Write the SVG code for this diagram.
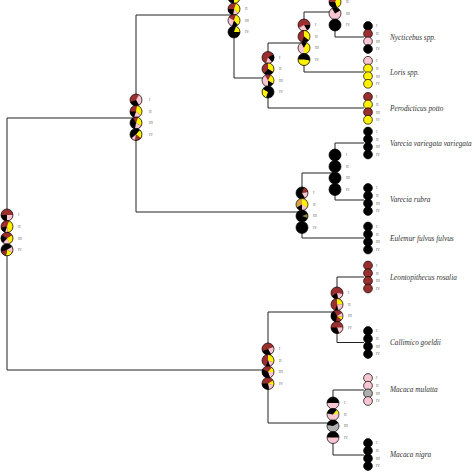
<svg xmlns="http://www.w3.org/2000/svg" width="474" height="474" viewBox="0 0 474 474">
<style>
.ln{fill:none;stroke:#222;stroke-width:1}
.k{fill:#000}.b{fill:#9b2f2f}.p{fill:#f7c6d1}.y{fill:#fff200}.g{fill:#b0b0b0}.o{fill:#d8a040}.q{fill:#8f8a3a}
.ol{fill:none;stroke:#000;stroke-width:0.7}
.t{stroke:#000;stroke-width:0.7}
.n{font-family:"Liberation Serif",serif;font-size:3.8px;fill:#666}
.sp{font-family:"Liberation Serif",serif;font-style:italic;font-size:7.3px;fill:#333}
</style>
<rect width="474" height="474" fill="#fff"/>
<g id="connectors" class="ln">
<path d="M7,118V370"/>
<path d="M7,118H136M136,15V212M136,15H234M136,212H302"/>
<path d="M234,0V78M234,78H268M268,43V108M268,43H304M268,108H364"/>
<path d="M304,12V72M304,12H335M304,72H364M335,0V37M335,37H364"/>
<path d="M302,173V238M302,173H335M302,238H364M335,143V200M335,143H364M335,200H364"/>
<path d="M7,370H268M268,312V423M268,312H337M268,423H333"/>
<path d="M337,277V342.5M337,277H364M337,342.5H364"/>
<path d="M333,390V455M333,390H364M333,455H364"/>
</g>
<g id="node-root">
<g transform="translate(7,215)"><circle r="6" class="b"/><path class="p" d="M0,0L6,0A6,6 0 0 1 0,6Z"/><path class="k" d="M0,0L0,6A6,6 0 0 1 -6,0Z"/><circle r="6" class="ol"/></g>
<g transform="translate(7,226.6)"><circle r="6" class="b"/><path class="y" d="M0,0L2.05,-5.64A6,6 0 0 1 1.04,5.91Z"/><path class="p" d="M0,0L1.04,5.91A6,6 0 0 1 -2.05,5.64Z"/><path class="k" d="M0,0L-2.05,5.64A6,6 0 0 1 -5.91,1.04Z"/><circle r="6" class="ol"/></g>
<g transform="translate(7,238.2)"><circle r="6" class="b"/><path class="y" d="M0,0L5.2,-3A6,6 0 0 1 3,5.2Z"/><path class="p" d="M0,0L3,5.2A6,6 0 0 1 -3.86,4.6Z"/><path class="k" d="M0,0L-3.86,4.6A6,6 0 0 1 -5.2,-3Z"/><circle r="6" class="ol"/></g>
<g transform="translate(7,249.8)"><circle r="6" class="k"/><path class="p" d="M0,0L5.2,-3A6,6 0 0 1 5.2,3Z"/><path class="y" d="M0,0L5.2,3A6,6 0 0 1 -1.04,5.91Z"/><path class="b" d="M0,0L-1.04,5.91A6,6 0 0 1 -5.64,2.05Z"/><circle r="6" class="ol"/></g>
<text class="n" x="18" y="216.3">I</text><text class="n" x="18" y="227.9">II</text><text class="n" x="18" y="239.5">III</text><text class="n" x="18" y="251.1">IV</text>
</g>
<g id="node-strepsirrhini">
<g transform="translate(136,100)"><circle r="6" class="b"/><path class="p" d="M0,0L3,-5.2A6,6 0 0 1 3,5.2Z"/><path class="k" d="M0,0L3,5.2A6,6 0 0 1 -5.64,2.05Z"/><circle r="6" class="ol"/></g>
<g transform="translate(136,111.5)"><circle r="6" class="b"/><path class="y" d="M0,0L1.04,-5.91A6,6 0 0 1 4.6,3.86Z"/><path class="p" d="M0,0L4.6,3.86A6,6 0 0 1 -2.05,5.64Z"/><path class="k" d="M0,0L-2.05,5.64A6,6 0 0 1 -6,0Z"/><circle r="6" class="ol"/></g>
<g transform="translate(136,123)"><circle r="6" class="k"/><path class="b" d="M0,0L-3,-5.2A6,6 0 0 1 2.05,-5.64Z"/><path class="y" d="M0,0L2.05,-5.64A6,6 0 0 1 5.2,3Z"/><path class="p" d="M0,0L5.2,3A6,6 0 0 1 -1.04,5.91Z"/><circle r="6" class="ol"/></g>
<g transform="translate(136,134.5)"><circle r="6" class="k"/><path class="y" d="M0,0L3.86,-4.6A6,6 0 0 1 4.6,3.86Z"/><path class="b" d="M0,0L4.6,3.86A6,6 0 0 1 -1.04,5.91Z"/><path class="p" d="M0,0L-1.04,5.91A6,6 0 0 1 -4.6,3.86Z"/><circle r="6" class="ol"/></g>
<text class="n" x="149" y="101.3">I</text><text class="n" x="149" y="112.8">II</text><text class="n" x="149" y="124.3">III</text><text class="n" x="149" y="135.8">IV</text>
</g>
<g id="node-lorisidae">
<g transform="translate(234,-2.5)"><circle r="6" class="k"/><path class="b" d="M0,0L-5.2,-3A6,6 0 0 1 5.2,-3Z"/><path class="y" d="M0,0L5.2,-3A6,6 0 0 1 0,6Z"/><circle r="6" class="ol"/></g>
<g transform="translate(234,9)"><circle r="6" class="b"/><path class="y" d="M0,0L2.05,-5.64A6,6 0 0 1 3.86,4.6Z"/><path class="p" d="M0,0L3.86,4.6A6,6 0 0 1 -1.04,5.91Z"/><path class="k" d="M0,0L-1.04,5.91A6,6 0 0 1 -6,0Z"/><circle r="6" class="ol"/></g>
<g transform="translate(234,20.5)"><circle r="6" class="p"/><path class="b" d="M0,0L-5.2,-3A6,6 0 0 1 2.05,-5.64Z"/><path class="y" d="M0,0L2.05,-5.64A6,6 0 0 1 3.86,4.6Z"/><path class="k" d="M0,0L3.86,4.6A6,6 0 0 1 -2.05,5.64Z"/><circle r="6" class="ol"/></g>
<g transform="translate(234,32)"><circle r="6" class="k"/><path class="y" d="M0,0L2.05,-5.64A6,6 0 0 1 6,0Z"/><circle r="6" class="ol"/></g>
<text class="n" x="245" y="10.3">II</text><text class="n" x="245" y="21.8">III</text><text class="n" x="245" y="33.3">IV</text>
</g>
<g id="node-lorisinae">
<g transform="translate(268,57.5)"><circle r="6" class="b"/><path class="k" d="M0,0L5.2,-3A6,6 0 0 1 3.86,4.6Z"/><path class="p" d="M0,0L3.86,4.6A6,6 0 0 1 -2.05,5.64Z"/><circle r="6" class="ol"/></g>
<g transform="translate(268,69)"><circle r="6" class="b"/><path class="y" d="M0,0L0,-6A6,6 0 0 1 5.2,3Z"/><path class="k" d="M0,0L5.2,3A6,6 0 0 1 -3.86,4.6Z"/><circle r="6" class="ol"/></g>
<g transform="translate(268,80.5)"><circle r="6" class="p"/><path class="b" d="M0,0L-3,-5.2A6,6 0 0 1 3,-5.2Z"/><path class="y" d="M0,0L3,-5.2A6,6 0 0 1 5.2,3Z"/><path class="k" d="M0,0L5.2,3A6,6 0 0 1 0,6Z"/><circle r="6" class="ol"/></g>
<g transform="translate(268,92)"><circle r="6" class="k"/><path class="y" d="M0,0L-2.05,5.64A6,6 0 0 1 -5.2,-3Z"/><circle r="6" class="ol"/></g>
<text class="n" x="279" y="58.8">I</text><text class="n" x="279" y="70.3">II</text><text class="n" x="279" y="81.8">III</text><text class="n" x="279" y="93.3">IV</text>
</g>
<g id="node-asian-lorises">
<g transform="translate(304,25)"><circle r="6" class="b"/><path class="k" d="M0,0L6,0A6,6 0 0 1 3,5.2Z"/><path class="p" d="M0,0L3,5.2A6,6 0 0 1 -5.2,3Z"/><circle r="6" class="ol"/></g>
<g transform="translate(304,36.5)"><circle r="6" class="b"/><path class="y" d="M0,0L0,-6A6,6 0 0 1 4.6,3.86Z"/><path class="k" d="M0,0L4.6,3.86A6,6 0 0 1 -2.05,5.64Z"/><circle r="6" class="ol"/></g>
<g transform="translate(304,48)"><circle r="6" class="p"/><path class="k" d="M0,0L-3,-5.2A6,6 0 0 1 3,-5.2Z"/><path class="y" d="M0,0L3,-5.2A6,6 0 0 1 0,6Z"/><circle r="6" class="ol"/></g>
<g transform="translate(304,59.5)"><circle r="6" class="k"/><path class="y" d="M0,0L5.91,1.04A6,6 0 0 1 -6,0Z"/><circle r="6" class="ol"/></g>
<text class="n" x="315" y="26.3">I</text><text class="n" x="315" y="37.8">II</text><text class="n" x="315" y="49.3">III</text><text class="n" x="315" y="60.8">IV</text>
</g>
<g id="node-nycticebus-clade">
<g transform="translate(335,-9.5)"><circle r="6" class="b"/><circle r="6" class="ol"/></g>
<g transform="translate(335,2)"><circle r="6" class="b"/><path class="y" d="M0,0L3,-5.2A6,6 0 0 1 2.05,5.64Z"/><path class="k" d="M0,0L2.05,5.64A6,6 0 0 1 -6,0Z"/><circle r="6" class="ol"/></g>
<g transform="translate(335,13.5)"><circle r="6" class="p"/><path class="k" d="M0,0L-3,-5.2A6,6 0 0 1 5.2,-3Z"/><circle r="6" class="ol"/></g>
<g transform="translate(335,25)"><circle r="6" class="k"/><circle r="6" class="ol"/></g>
<text class="n" x="346" y="3.3">II</text><text class="n" x="346" y="14.8">III</text><text class="n" x="346" y="26.3">IV</text>
</g>
<g id="node-lemuridae">
<g transform="translate(302,193)"><circle r="6" class="k"/><path class="b" d="M0,0L2.05,-5.64A6,6 0 0 1 5.91,-1.04Z"/><path class="p" d="M0,0L5.91,-1.04A6,6 0 0 1 3,5.2Z"/><circle r="6" class="ol"/></g>
<g transform="translate(302,204.5)"><circle r="6" class="o"/><path class="y" d="M0,0L0,-6A6,6 0 0 1 5.2,3Z"/><path class="p" d="M0,0L5.2,3A6,6 0 0 1 0,6Z"/><path class="k" d="M0,0L0,6A6,6 0 0 1 -5.2,3Z"/><circle r="6" class="ol"/></g>
<g transform="translate(302,216)"><circle r="6" class="k"/><path class="q" d="M0,0L5.64,-2.05A6,6 0 0 1 5.64,2.05Z"/><circle r="6" class="ol"/></g>
<g transform="translate(302,227.5)"><circle r="6" class="k"/><circle r="6" class="ol"/></g>
<text class="n" x="313" y="194.3">I</text><text class="n" x="313" y="205.8">II</text><text class="n" x="313" y="217.3">III</text><text class="n" x="313" y="228.8">IV</text>
</g>
<g id="node-varecia">
<g class="k t"><circle cx="335" cy="155" r="6"/><circle cx="335" cy="166.5" r="6"/><circle cx="335" cy="178" r="6"/><circle cx="335" cy="189.5" r="6"/></g>
<text class="n" x="346" y="156.3">I</text><text class="n" x="346" y="167.8">II</text><text class="n" x="346" y="179.3">III</text><text class="n" x="346" y="190.8">IV</text>
</g>
<g id="node-haplorhini">
<g transform="translate(268,349)"><circle r="6" class="b"/><path class="p" d="M0,0L5.64,-2.05A6,6 0 0 1 3,5.2Z"/><path class="k" d="M0,0L3,5.2A6,6 0 0 1 -5.64,2.05Z"/><circle r="6" class="ol"/></g>
<g transform="translate(268,360.5)"><circle r="6" class="b"/><path class="y" d="M0,0L0,-6A6,6 0 0 1 5.64,2.05Z"/><path class="p" d="M0,0L5.64,2.05A6,6 0 0 1 2.05,5.64Z"/><path class="k" d="M0,0L2.05,5.64A6,6 0 0 1 -2.05,5.64Z"/><circle r="6" class="ol"/></g>
<g transform="translate(268,372)"><circle r="6" class="b"/><path class="y" d="M0,0L3.86,-4.6A6,6 0 0 1 6,0Z"/><path class="p" d="M0,0L6,0A6,6 0 0 1 2.05,5.64Z"/><path class="k" d="M0,0L2.05,5.64A6,6 0 0 1 -5.2,-3Z"/><circle r="6" class="ol"/></g>
<g transform="translate(268,383.5)"><circle r="6" class="b"/><path class="y" d="M0,0L5.2,-3A6,6 0 0 1 5.64,2.05Z"/><path class="p" d="M0,0L5.64,2.05A6,6 0 0 1 1.04,5.91Z"/><path class="k" d="M0,0L1.04,5.91A6,6 0 0 1 -6,0Z"/><circle r="6" class="ol"/></g>
<text class="n" x="279" y="350.3">I</text><text class="n" x="279" y="361.8">II</text><text class="n" x="279" y="373.3">III</text><text class="n" x="279" y="384.8">IV</text>
</g>
<g id="node-callitrichidae">
<g transform="translate(337,293)"><circle r="6" class="b"/><path class="p" d="M0,0L5.91,1.04A6,6 0 0 1 1.04,5.91Z"/><path class="k" d="M0,0L1.04,5.91A6,6 0 0 1 -5.2,3Z"/><circle r="6" class="ol"/></g>
<g transform="translate(337,304.5)"><circle r="6" class="b"/><path class="y" d="M0,0L0,-6A6,6 0 0 1 6,0Z"/><path class="p" d="M0,0L6,0A6,6 0 0 1 1.04,5.91Z"/><path class="k" d="M0,0L1.04,5.91A6,6 0 0 1 -2.05,5.64Z"/><circle r="6" class="ol"/></g>
<g transform="translate(337,316)"><circle r="6" class="b"/><path class="k" d="M0,0L-1.04,5.91A6,6 0 0 1 -3,-5.2Z"/><path class="p" d="M0,0L5.2,-3A6,6 0 0 1 5.91,1.04Z"/><path class="y" d="M0,0L5.91,1.04A6,6 0 0 1 4.6,3.86Z"/><circle r="6" class="ol"/></g>
<g transform="translate(337,327.5)"><circle r="6" class="b"/><path class="p" d="M0,0L6,0A6,6 0 0 1 2.05,5.64Z"/><path class="k" d="M0,0L2.05,5.64A6,6 0 0 1 -6,0Z"/><circle r="6" class="ol"/></g>
<text class="n" x="348" y="294.3">I</text><text class="n" x="348" y="305.8">II</text><text class="n" x="348" y="317.3">III</text><text class="n" x="348" y="328.8">IV</text>
</g>
<g id="node-macaca">
<g transform="translate(333,403)"><circle r="6" class="p"/><path class="k" d="M0,0L-6,0A6,6 0 0 1 6,0Z"/><circle r="6" class="ol"/></g>
<g transform="translate(333,414.5)"><circle r="6" class="p"/><path class="k" d="M0,0L-5.91,-1.04A6,6 0 0 1 3.86,-4.6Z"/><path class="y" d="M0,0L3.86,-4.6A6,6 0 0 1 5.91,-1.04Z"/><circle r="6" class="ol"/></g>
<g transform="translate(333,426)"><circle r="6" class="g"/><path class="k" d="M0,0L-5.91,-1.04A6,6 0 0 1 5.2,-3Z"/><circle r="6" class="ol"/></g>
<g transform="translate(333,437.5)"><circle r="6" class="p"/><path class="k" d="M0,0L-6,0A6,6 0 0 1 6,0Z"/><circle r="6" class="ol"/></g>
<text class="n" x="344" y="404.3">I</text><text class="n" x="344" y="415.8">II</text><text class="n" x="344" y="427.3">III</text><text class="n" x="344" y="438.8">IV</text>
</g>
<g id="tip-nycticebus">
<circle cx="368" cy="26" r="4.4" class="k t"/><circle cx="368" cy="33.7" r="4.4" class="b t"/><circle cx="368" cy="41.4" r="4.4" class="p t"/><circle cx="368" cy="49" r="4.4" class="k t"/>
<text class="n" x="376" y="27.3">I</text><text class="n" x="376" y="35">II</text><text class="n" x="376" y="42.7">III</text><text class="n" x="376" y="50.3">IV</text>
<text class="sp" x="390" y="40">Nycticebus spp.</text>
</g>
<g id="tip-loris">
<circle cx="368" cy="60.8" r="4.4" class="p t"/><circle cx="368" cy="68.5" r="4.4" class="y t"/><circle cx="368" cy="76.2" r="4.4" class="y t"/><circle cx="368" cy="83.8" r="4.4" class="y t"/>
<text class="n" x="376" y="62.1">I</text><text class="n" x="376" y="69.8">II</text><text class="n" x="376" y="77.5">III</text><text class="n" x="376" y="85.1">IV</text>
<text class="sp" x="390" y="74.8">Loris spp.</text>
</g>
<g id="tip-perodicticus">
<circle cx="368" cy="96.8" r="4.4" class="b t"/><circle cx="368" cy="104.5" r="4.4" class="y t"/><circle cx="368" cy="112.2" r="4.4" class="b t"/><circle cx="368" cy="119.8" r="4.4" class="y t"/>
<text class="n" x="376" y="98.1">I</text><text class="n" x="376" y="105.8">II</text><text class="n" x="376" y="113.5">III</text><text class="n" x="376" y="121.1">IV</text>
<text class="sp" x="390" y="110.8">Perodicticus potto</text>
</g>
<g id="tip-varecia-variegata">
<g class="k t"><circle cx="368" cy="131.5" r="4.4"/><circle cx="368" cy="139.2" r="4.4"/><circle cx="368" cy="146.9" r="4.4"/><circle cx="368" cy="154.5" r="4.4"/></g>
<text class="n" x="376" y="132.8">I</text><text class="n" x="376" y="140.5">II</text><text class="n" x="376" y="148.2">III</text><text class="n" x="376" y="155.8">IV</text>
<text class="sp" x="390" y="145.5">Varecia variegata variegata</text>
</g>
<g id="tip-varecia-rubra">
<g class="k t"><circle cx="368" cy="188" r="4.4"/><circle cx="368" cy="195.7" r="4.4"/><circle cx="368" cy="203.4" r="4.4"/><circle cx="368" cy="211" r="4.4"/></g>
<text class="n" x="376" y="189.3">I</text><text class="n" x="376" y="197">II</text><text class="n" x="376" y="204.7">III</text><text class="n" x="376" y="212.3">IV</text>
<text class="sp" x="390" y="202">Varecia rubra</text>
</g>
<g id="tip-eulemur">
<g class="k t"><circle cx="368" cy="226.5" r="4.4"/><circle cx="368" cy="234.2" r="4.4"/><circle cx="368" cy="241.9" r="4.4"/><circle cx="368" cy="249.5" r="4.4"/></g>
<text class="n" x="376" y="227.8">I</text><text class="n" x="376" y="235.5">II</text><text class="n" x="376" y="243.2">III</text><text class="n" x="376" y="250.8">IV</text>
<text class="sp" x="390" y="240.5">Eulemur fulvus fulvus</text>
</g>
<g id="tip-leontopithecus">
<g class="b t"><circle cx="368" cy="265.5" r="4.4"/><circle cx="368" cy="273.2" r="4.4"/><circle cx="368" cy="280.9" r="4.4"/><circle cx="368" cy="288.5" r="4.4"/></g>
<text class="n" x="376" y="266.8">I</text><text class="n" x="376" y="274.5">II</text><text class="n" x="376" y="282.2">III</text><text class="n" x="376" y="289.8">IV</text>
<text class="sp" x="390" y="279.5">Leontopithecus rosalia</text>
</g>
<g id="tip-callimico">
<g class="k t"><circle cx="368" cy="331" r="4.4"/><circle cx="368" cy="338.7" r="4.4"/><circle cx="368" cy="346.4" r="4.4"/><circle cx="368" cy="354" r="4.4"/></g>
<text class="n" x="376" y="332.3">I</text><text class="n" x="376" y="340">II</text><text class="n" x="376" y="347.7">III</text><text class="n" x="376" y="355.3">IV</text>
<text class="sp" x="390" y="345">Callimico goeldii</text>
</g>
<g id="tip-macaca-mulatta">
<circle cx="368" cy="378" r="4.4" class="p t"/><circle cx="368" cy="385.7" r="4.4" class="p t"/><circle cx="368" cy="393.4" r="4.4" class="g t"/><circle cx="368" cy="401" r="4.4" class="p t"/>
<text class="n" x="376" y="379.3">I</text><text class="n" x="376" y="387">II</text><text class="n" x="376" y="394.7">III</text><text class="n" x="376" y="402.3">IV</text>
<text class="sp" x="390" y="392">Macaca mulatta</text>
</g>
<g id="tip-macaca-nigra">
<g class="k t"><circle cx="368" cy="443" r="4.4"/><circle cx="368" cy="450.7" r="4.4"/><circle cx="368" cy="458.4" r="4.4"/><circle cx="368" cy="466" r="4.4"/></g>
<text class="n" x="376" y="444.3">I</text><text class="n" x="376" y="452">II</text><text class="n" x="376" y="459.7">III</text><text class="n" x="376" y="467.3">IV</text>
<text class="sp" x="390" y="457">Macaca nigra</text>
</g>
</svg>
